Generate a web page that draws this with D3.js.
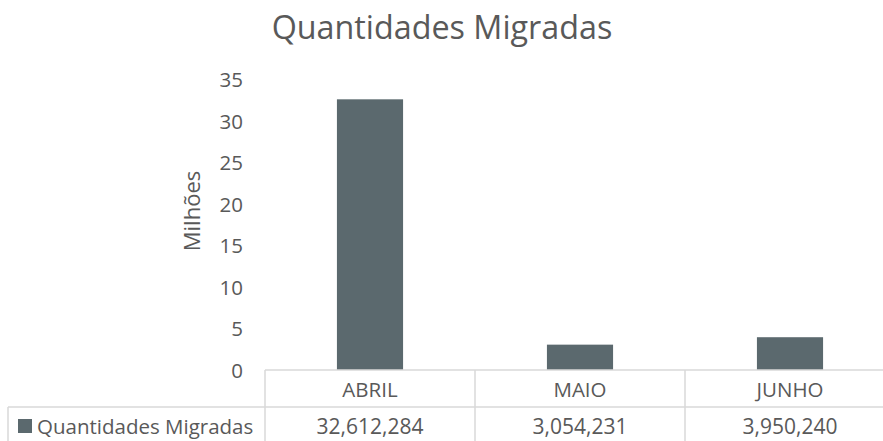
<!DOCTYPE html>
<html>
<head>
<meta charset="utf-8">
<script src="https://cdn.jsdelivr.net/npm/d3@7"></script>
<style>
  html, body { margin: 0; padding: 0; background: #fff; }
  svg { display: block; font-family: "Open Sans", "Noto Sans", sans-serif; }
  svg text { font-family: "Open Sans", "Noto Sans", sans-serif; }
</style>
</head>
<body>
<svg id="chart" width="883" height="441"></svg>
<script>
const title = "Quantidades Migradas";
const seriesName = "Quantidades Migradas";
const yAxisTitle = "Milhões";
const categories = ["ABRIL", "MAIO", "JUNHO"];
const values = [32612284, 3054231, 3950240];
const yTicks = [0, 5, 10, 15, 20, 25, 30, 35];

const svg = d3.select("#chart");
const W = 883, H = 441;
const plot = { left: 265, right: 895, top: 79.5, bottom: 370 };
const rowH = 37;
const textColor = "#595959";
const lineColor = "#d9d9d9";
const barColor = "#5b696e";
const fs = 20.5;

const x = d3.scaleBand().domain(categories).range([plot.left, plot.right]).paddingInner(0).paddingOuter(0);
const y = d3.scaleLinear().domain([0, 35]).range([plot.bottom, plot.top]);
const barW = x.bandwidth() * 0.315;

// title
svg.append("text").attr("x", 442).attr("y", 39).attr("text-anchor", "middle")
  .attr("font-size", 32.3).attr("fill", textColor).text(title);

// y axis (labels only)
const yAxis = d3.axisLeft(y).tickValues(yTicks).tickSize(0).tickPadding(0).tickFormat(d3.format("d"));
const gy = svg.append("g").attr("transform", `translate(${243},0)`).call(yAxis)
  .attr("font-family", null).attr("font-size", null);
gy.select(".domain").remove();
gy.selectAll("text").attr("font-size", fs).attr("fill", textColor).attr("dy", "0.36em");

// y axis title
svg.append("text").attr("transform", `translate(200,211) rotate(-90)`).attr("text-anchor", "middle")
  .attr("font-size", 22).attr("fill", textColor).text(yAxisTitle);

// bars
svg.append("g").selectAll("rect").data(categories).join("rect")
  .attr("x", d => x(d) + (x.bandwidth() - barW) / 2)
  .attr("y", (d, i) => y(values[i] / 1e6))
  .attr("width", barW)
  .attr("height", (d, i) => y(0) - y(values[i] / 1e6))
  .attr("fill", barColor);

// data table
const tg = svg.append("g").attr("stroke", lineColor).attr("stroke-width", 1.5).attr("fill", "none");
tg.append("line").attr("x1", plot.left).attr("x2", W + 20).attr("y1", plot.bottom).attr("y2", plot.bottom);
tg.append("line").attr("x1", 8).attr("x2", W + 20).attr("y1", plot.bottom + rowH).attr("y2", plot.bottom + rowH);
tg.append("line").attr("x1", 8).attr("x2", 8).attr("y1", plot.bottom + rowH).attr("y2", H + 5);
const edges = categories.map(c => x(c)).concat([x.range()[1]]);
tg.selectAll("line.v").data(edges).join("line").attr("class", "v")
  .attr("x1", d => d).attr("x2", d => d).attr("y1", plot.bottom).attr("y2", H + 5);

// category labels
svg.append("g").selectAll("text").data(categories).join("text")
  .attr("x", d => x(d) + x.bandwidth() / 2).attr("y", plot.bottom + 27)
  .attr("text-anchor", "middle").attr("font-size", fs).attr("fill", textColor).text(d => d);

// value row
svg.append("g").selectAll("text").data(values).join("text")
  .attr("x", (d, i) => x(categories[i]) + x.bandwidth() / 2).attr("y", plot.bottom + rowH + 27)
  .attr("text-anchor", "middle").attr("font-size", fs + 0.5).attr("fill", textColor).text(d => d3.format(",")(d));

// legend key
svg.append("rect").attr("x", 18).attr("y", 419).attr("width", 14).attr("height", 14).attr("fill", barColor);
svg.append("text").attr("x", 37).attr("y", plot.bottom + rowH + 27).attr("font-size", fs)
  .attr("fill", textColor).text(seriesName);
</script>
</body>
</html>
